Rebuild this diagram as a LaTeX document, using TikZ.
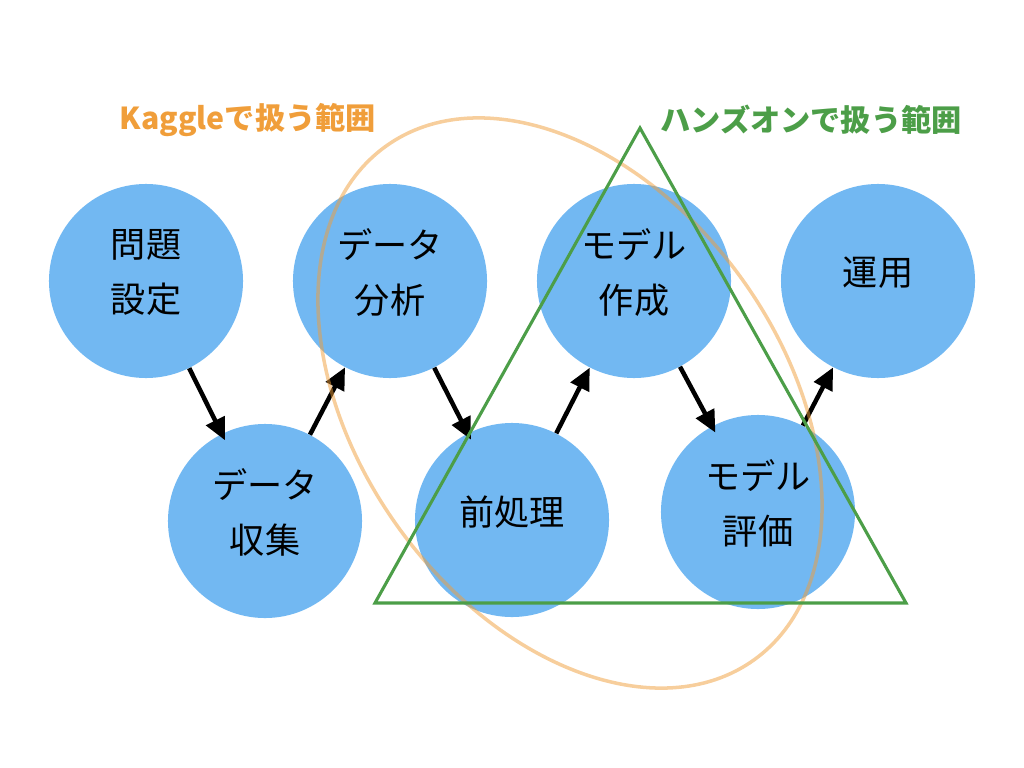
\documentclass[tikz,border=0pt]{standalone}
\usepackage{fontspec}
\setmainfont{Noto Sans CJK JP}
\usetikzlibrary{arrows.meta}
\definecolor{bubble}{RGB}{114,184,242}
\definecolor{kaggle}{RGB}{240,158,58}
\definecolor{handson}{RGB}{76,158,72}

\begin{document}
\begin{tikzpicture}[x=0.025cm,y=-0.025cm,
    stage/.style={circle,fill=bubble,minimum size=4.85cm,inner sep=0pt,align=center,
      text depth=14pt,font=\fontsize{25}{39}\selectfont},
    flow/.style={-{Triangle[length=0.55cm,width=0.5cm]},line width=3.2pt},
    rangetext/.style={font=\fontsize{21.5}{25}\selectfont\bfseries}]
\useasboundingbox (0,0) rectangle (1024,768);
\node[stage] (s1) at (146,281) {問題\\設定};
\node[stage] (s2) at (265,521) {データ\\収集};
\node[stage] (s3) at (390,281) {データ\\分析};
\node[stage] (s4) at (512,520) {前処理};
\node[stage] (s5) at (634,281) {モデル\\作成};
\node[stage] (s6) at (758,512) {モデル\\評価};
\node[stage] (s7) at (878,281) {運用};
\draw[flow,shorten >=-0.18cm] (s1) -- (s2);
\draw[flow] (s2) -- (s3);
\draw[flow,shorten >=-0.18cm] (s3) -- (s4);
\draw[flow] (s4) -- (s5);
\draw[flow,shorten >=-0.18cm] (s5) -- (s6);
\draw[flow] (s6) -- (s7);
\draw[kaggle,opacity=0.5,line width=2.5pt] (570,403) circle [x radius=316,y radius=212,rotate=-54.4];
\draw[handson,line width=2.2pt,line join=miter] (640,128) -- (906,603) -- (375,603) -- cycle;
\node[rangetext,text=kaggle] (kg) at (248,120) {Kaggleで扱う範囲};
\node[rangetext,text=handson] (ho) at (811,120) {ハンズオンで扱う範囲};
\end{tikzpicture}
\end{document}
